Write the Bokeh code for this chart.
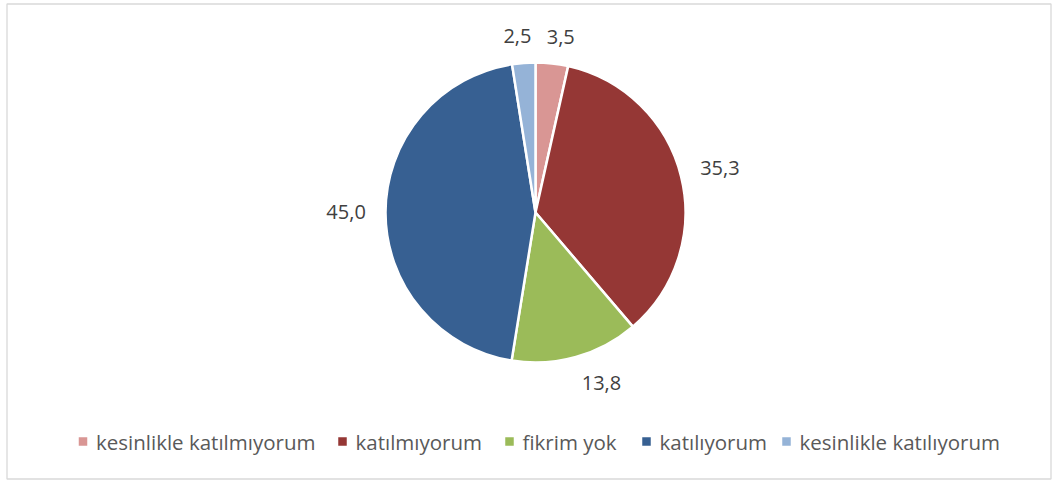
import math
from bokeh.plotting import figure
from bokeh.models import Range1d, ColumnDataSource
from bokeh.core.properties import value
from bokeh.embed import file_html
from bokeh.resources import INLINE

categories = ["kesinlikle katılmıyorum", "katılmıyorum", "fikrim yok", "katılıyorum", "kesinlikle katılıyorum"]
values = [3.5, 35.3, 13.8, 45.0, 2.5]
labels = ["3,5", "35,3", "13,8", "45,0", "2,5"]
colors = ["#D99694", "#953735", "#9BBB59", "#376092", "#95B3D7"]

W, H = 1058, 480
CX, CY, R = 535, H - 212, 150
FONT = "Open Sans"

p = figure(width=W, height=H, output_backend="svg", toolbar_location=None,
           x_range=Range1d(0, W), y_range=Range1d(0, H), min_border=0)
p.axis.visible = False
p.grid.visible = False
p.outline_line_color = None
p.background_fill_color = "white"

# chart border
p.quad(left=[6.5], right=[1050.5], bottom=[H - 478.5], top=[H - 3.5],
       fill_color=None, line_color="#D9D9D9", line_width=1.3)

total = sum(values)
starts, ends, mids = [], [], []
cum = 0.0
for v in values:
    a0 = math.pi / 2 - 2 * math.pi * cum / total
    cum += v
    a1 = math.pi / 2 - 2 * math.pi * cum / total
    starts.append(a0)
    ends.append(a1)
    mids.append((a0 + a1) / 2)

src = ColumnDataSource(dict(start=starts, end=ends, color=colors))
p.wedge(x=CX, y=CY, radius=R, start_angle="start", end_angle="end",
        direction="clock", fill_color="color", line_color="white",
        line_width=2.5, source=src)

# data labels outside the pie
def clamp(v):
    return max(-1.0, min(1.0, v))

lx, ly = [], []
gap = 19
for lab, m in zip(labels, mids):
    dx, dy = math.cos(m), math.sin(m)
    hw = 10.2 * len(lab) / 2
    hh = 8
    lx.append(CX + (R + gap) * dx + hw * clamp(4 * dx))
    ly.append(CY + (R + gap) * dy + hh * clamp(2 * dy))
p.text(x=lx, y=ly, text=labels, text_align="center", text_baseline="middle",
       text_font=value(FONT), text_font_size="20px", text_color="#404040")

# legend (manual)
leg_y = H - 441
mx = [82.5, 342, 509, 646, 786]
p.rect(x=mx, y=[leg_y] * 5, width=8.5, height=8.5, fill_color=colors, line_color=None)
p.text(x=[m + 13 for m in mx], y=[leg_y] * 5, text=categories, text_align="left",
       text_baseline="middle", text_font=value(FONT), text_font_size="20.5px",
       text_color="#595959")

open("out.html", "w").write(file_html(p, INLINE))
